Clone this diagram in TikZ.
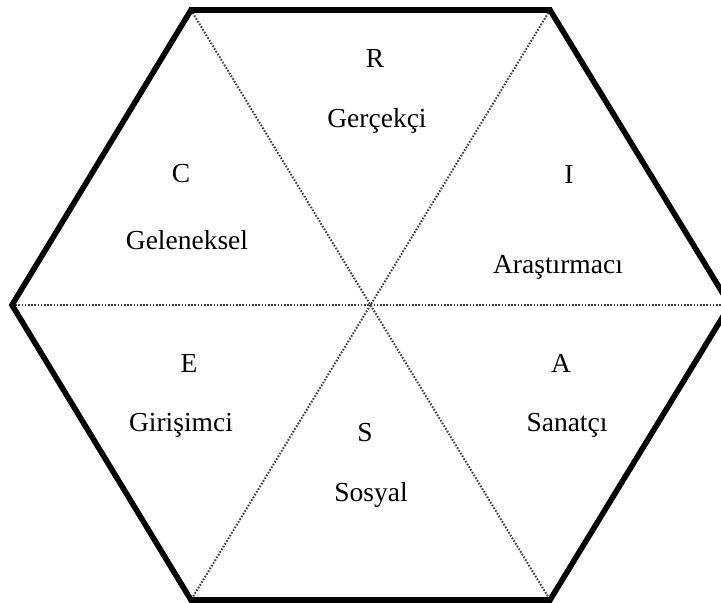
\documentclass[tikz,border=0pt]{standalone}
\usepackage{fontspec}
\setmainfont{Liberation Serif}
\begin{document}
\begin{tikzpicture}[x=1pt,y=-1pt,
  lbl/.style={inner sep=0pt,font=\fontsize{27.5}{32}\selectfont},
  divider/.style={line width=2pt,draw=black!75,dash pattern=on 1.6pt off 1.6pt},
  border/.style={line width=5.6pt,line join=miter}]
\useasboundingbox (0,0) rectangle (721,603);
\clip (0,0) rectangle (721,603);
\coordinate (TL) at (191,10);
\coordinate (TR) at (550,10);
\coordinate (RR) at (730,305);
\coordinate (BR) at (550,600);
\coordinate (BL) at (191,600);
\coordinate (LL) at (12,305);
\coordinate (O) at (371,305);
\draw[divider] (TL) -- (BR);
\draw[divider] (TR) -- (BL);
\draw[divider] (LL) -- (RR);
\draw[border] (TL) -- (TR) -- (RR) -- (BR) -- (BL) -- (LL) -- cycle;
\node[lbl] (r) at (375,58) {R};
\node[lbl] (rt) at (377,121) {Gerçekçi};
\node[lbl] (c) at (181,174) {C};
\node[lbl] (ct) at (187,240) {Geleneksel};
\node[lbl] (i) at (569,174) {I};
\node[lbl] (it) at (558,267) {Araştırmacı};
\node[lbl] (e) at (189,363) {E};
\node[lbl] (et) at (181,425) {Girişimci};
\node[lbl] (s) at (365,433) {S};
\node[lbl] (st) at (371,495) {Sosyal};
\node[lbl] (a) at (561,363) {A};
\node[lbl] (at) at (567,425) {Sanatçı};
\end{tikzpicture}
\end{document}
